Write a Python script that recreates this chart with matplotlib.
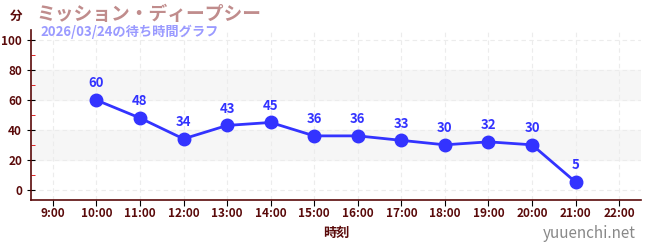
import matplotlib.pyplot as plt
from matplotlib.ticker import MultipleLocator

plt.rcParams['font.family'] = ['Noto Sans CJK JP', 'DejaVu Sans']

hours = [10, 11, 12, 13, 14, 15, 16, 17, 18, 19, 20, 21]
waits = [60, 48, 34, 43, 45, 36, 36, 33, 30, 32, 30, 5]
tick_hours = list(range(9, 23))
tick_labels = ["%d:00" % h for h in tick_hours]

title = "ミッション・ディープシー"
subtitle = "2026/03/24の待ち時間グラフ"

dark = "#5a0a0a"
blue = "#3333ff"

fig = plt.figure(figsize=(6.5, 2.5), dpi=100)
ax = fig.add_axes([31/650, 50/250, 610/650, 170/250])

ax.set_xlim(8.5, 22.5)
ax.set_ylim(-7, 107)

# shaded bands
for lo, hi in [(20, 40), (60, 80)]:
    ax.axhspan(lo, hi, color="#f6f6f6", zorder=0)

ax.set_xticks(tick_hours)
ax.set_xticklabels(tick_labels)
ax.set_yticks([0, 20, 40, 60, 80, 100])
ax.yaxis.set_minor_locator(MultipleLocator(10))
ax.grid(True, which="major", color="#ececec", linestyle=(0, (4, 3)), linewidth=0.8, zorder=0)

ax.plot(hours, waits, color=blue, linewidth=2, marker="o", markersize=9, zorder=3)
for h, w in zip(hours, waits):
    ax.annotate(str(w), (h, w), xytext=(0, 7), textcoords="offset points",
                ha="center", va="bottom", color=blue, fontsize=9.5, fontweight="bold")

for s in ["top", "right"]:
    ax.spines[s].set_visible(False)
for s in ["left", "bottom"]:
    ax.spines[s].set_color(dark)
    ax.spines[s].set_linewidth(1.2)

ax.tick_params(axis="y", which="major", direction="inout", length=6, color="black",
               labelsize=8.5, labelcolor=dark)
ax.tick_params(axis="y", which="minor", direction="in", length=3, color="#dd0000")
ax.tick_params(axis="x", which="major", direction="out", length=4, pad=1, color="black",
               labelsize=8.5, labelcolor=dark)
for lab in ax.get_xticklabels() + ax.get_yticklabels():
    lab.set_fontweight("bold")

ax.set_xlabel("時刻", color=dark, fontsize=9.5, fontweight="bold")
ax.xaxis.set_label_coords(0.5, -0.15)

fig.text(10/650, 1 - 16/250, "分", color=dark, fontsize=9, fontweight="bold", va="center")
fig.text(36/650, 1 - 14/250, title, color="#c08c8c", fontsize=13.5, fontweight="bold", va="center")
fig.text(40/650, 1 - 32/250, subtitle, color="#9a9aff", fontsize=9.5, fontweight="bold", va="center")
fig.text(636/650, 1 - 234/250, "yuuenchi.net", color="#888888", fontsize=11, ha="right", va="center")

fig.savefig("out.png", dpi=100)
